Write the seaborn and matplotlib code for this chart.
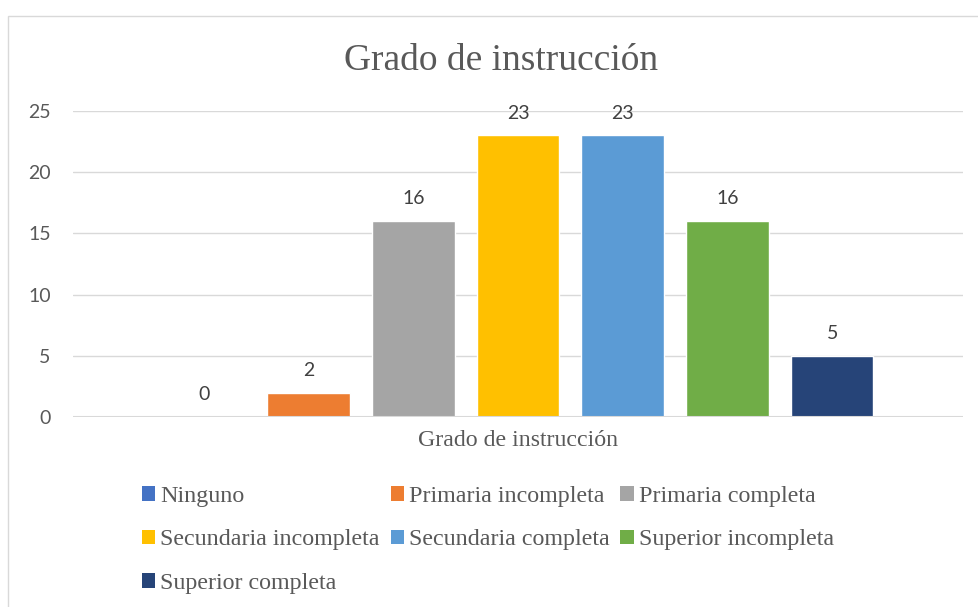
import matplotlib
matplotlib.use("Agg")
import matplotlib.pyplot as plt
from matplotlib.patches import Patch, Rectangle
import seaborn as sns

# --- Data ---
categorias = ["Ninguno", "Primaria incompleta", "Primaria completa",
              "Secundaria incompleta", "Secundaria completa",
              "Superior incompleta", "Superior completa"]
valores = [0, 2, 16, 23, 23, 16, 5]
colores = ["#4472C4", "#ED7D31", "#A5A5A5", "#FFC000",
           "#5B9BD5", "#70AD47", "#264478"]
y_ticks = [0, 5, 10, 15, 20, 25]

titulo = "Grado de instrucción"
etiqueta_x = "Grado de instrucción"

W, H = 979, 607
sns.set_theme(style="white")
plt.rcParams["font.family"] = ["Lato", "DejaVu Sans"]

fig = plt.figure(figsize=(W / 100, H / 100), dpi=100)
ax = fig.add_axes([73 / W, 1 - 417 / H, (963 - 73) / W, (417 - 111) / H])

sns.barplot(x=categorias, y=valores, hue=categorias, palette=colores,
            width=0.79, legend=False, ax=ax, saturation=1)

# data labels above each bar
for cont in ax.containers:
    ax.bar_label(cont, padding=10, fontsize=14, color="#404040")

ax.set_xlim(-1.25, 7.25)
ax.set_ylim(0, 25)
ax.set_yticks(y_ticks)
ax.set_xticks([])
ax.tick_params(axis="y", length=0, pad=16, labelsize=14, labelcolor="#595959")
for s in ax.spines.values():
    s.set_visible(False)
ax.grid(axis="y", color="#d9d9d9", linewidth=1)
ax.set_axisbelow(True)
ax.axhline(0, color="#d9d9d9", linewidth=1.5)

serif = ["Liberation Serif", "DejaVu Serif"]
ax.set_xlabel(etiqueta_x, family=serif, fontsize=17.2, color="#595959", labelpad=9)
ax.set_ylabel("")

fig.text(501 / W, 1 - 61 / H, titulo, family=serif, fontsize=27,
         color="#595959", ha="center", va="center")

# legend filled row by row, like the original (matplotlib fills by column)
orden = [0, 3, 6, 1, 4, 2, 5]
handles = [Patch(facecolor=colores[i], edgecolor="none") for i in orden]
labels = [categorias[i] for i in orden]
fig.legend(handles, labels, loc="upper left", ncol=3, frameon=False,
           bbox_to_anchor=(142 / W, 1 - 486 / H), borderaxespad=0, borderpad=0,
           prop={"family": serif, "size": 17.3}, labelcolor="#595959",
           handlelength=0.56, handleheight=0.56, handletextpad=0.2,
           columnspacing=0.45, labelspacing=0.93)

# outer chart border (cut off by the right/bottom edges)
fig.add_artist(Rectangle((8.5 / W, -0.1), 1.2, 1 - 15.5 / H + 0.1,
                         transform=fig.transFigure, fill=False,
                         edgecolor="#d9d9d9", linewidth=1))

fig.savefig("out.png", dpi=100)
